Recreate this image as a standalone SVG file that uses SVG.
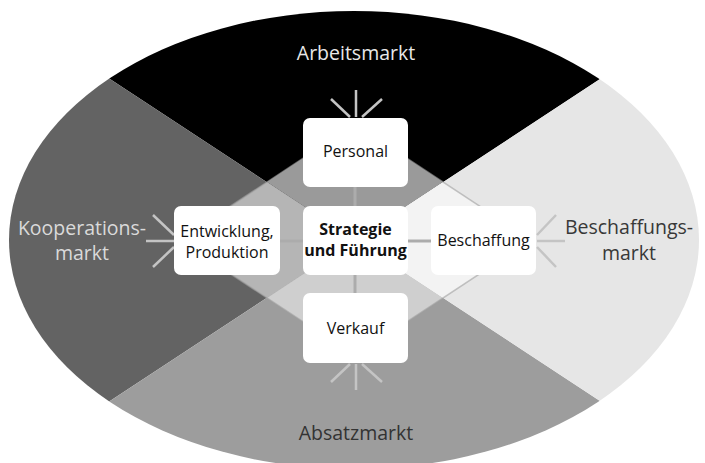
<svg xmlns="http://www.w3.org/2000/svg" width="705" height="463" viewBox="0 0 705 463">
  <defs>
    <clipPath id="oval">
      <ellipse cx="354" cy="240" rx="345" ry="229"/>
    </clipPath>
    <style>
      .box { fill: #ffffff; }
      .lbl { font-family: "Open Sans", "Liberation Sans", sans-serif; font-size: 16px; fill: #111111; text-anchor: middle; }
      .bold { font-weight: bold; }
      .mkt { font-family: "Open Sans", "Liberation Sans", sans-serif; font-size: 19.5px; text-anchor: middle; }
      .ray { stroke: #c4c4c4; stroke-width: 2.5; fill: none; }
      .link { stroke: #acacac; stroke-width: 3; fill: none; }
      .edge { fill: none; stroke: #a0a0a0; stroke-opacity: 0.6; stroke-width: 1.5; }
    </style>
  </defs>

  <!-- market sectors -->
  <g id="sectors" clip-path="url(#oval)">
    <polygon points="355,240 -380,-243 1090,-243" fill="#000000"/>
    <polygon points="355,240 -380,-243 -380,723" fill="#636363"/>
    <polygon points="355,240 -380,723 1090,723" fill="#9d9d9d"/>
    <polygon points="355,240 1090,-243 1090,723" fill="#e6e6e6"/>
  </g>

  <!-- inner diamond -->
  <g id="diamond">
    <polygon points="355,240 267,182 355,124 443,182" fill="#9a9a9a"/>
    <polygon points="355,240 267,182 179,240 267,298" fill="#b5b5b5"/>
    <polygon points="355,240 267,298 355,356 443,298" fill="#cfcfcf"/>
    <polygon points="355,240 443,182 531,240 443,298" fill="#f3f3f3"/>
    <polygon class="edge" points="179,240 355,124 531,240 355,356"/>
  </g>

  <!-- connectors -->
  <g id="connectors">
    <line class="link" x1="355" y1="187" x2="355" y2="206"/>
    <line class="link" x1="355" y1="275" x2="355" y2="293"/>
    <line class="link" x1="280" y1="241" x2="303" y2="241"/>
    <line class="link" x1="408" y1="241" x2="431" y2="241"/>
    <!-- rays from the markets -->
    <line class="ray" x1="356" y1="90" x2="356" y2="117"/>
    <line class="ray" x1="331" y1="99" x2="350" y2="117"/>
    <line class="ray" x1="382" y1="99" x2="362" y2="117"/>
    <line class="ray" x1="356" y1="364" x2="356" y2="390"/>
    <line class="ray" x1="350" y1="364" x2="331" y2="382"/>
    <line class="ray" x1="362" y1="364" x2="382" y2="382"/>
    <line class="ray" x1="146" y1="241" x2="174" y2="241"/>
    <line class="ray" x1="153" y1="215" x2="174" y2="235"/>
    <line class="ray" x1="153" y1="267" x2="174" y2="247"/>
    <line class="ray" x1="537" y1="241" x2="565" y2="241"/>
    <line class="ray" x1="556" y1="215" x2="537" y2="235"/>
    <line class="ray" x1="556" y1="267" x2="537" y2="247"/>
  </g>

  <g id="personal">
    <rect class="box" x="303" y="118" width="105" height="69" rx="7"/>
    <text class="lbl" x="355.5" y="157">Personal</text>
  </g>
  <g id="strategie">
    <rect class="box" x="303" y="206" width="105" height="69" rx="7"/>
    <text class="lbl bold" x="355.5" y="235">Strategie</text>
    <text class="lbl bold" x="355.5" y="256">und Führung</text>
  </g>
  <g id="entwicklung">
    <rect class="box" x="174" y="206" width="106" height="69" rx="7"/>
    <text class="lbl" x="227" y="237">Entwicklung,</text>
    <text class="lbl" x="227" y="258">Produktion</text>
  </g>
  <g id="beschaffung">
    <rect class="box" x="431" y="206" width="105" height="69" rx="7"/>
    <text class="lbl" x="483.5" y="246">Beschaffung</text>
  </g>
  <g id="verkauf">
    <rect class="box" x="303" y="293" width="105" height="70" rx="7"/>
    <text class="lbl" x="355.5" y="334">Verkauf</text>
  </g>

  <!-- market labels -->
  <g id="arbeitsmarkt">
    <text class="mkt" x="356" y="60" fill="#e8e8e8">Arbeitsmarkt</text>
  </g>
  <g id="kooperationsmarkt">
    <text class="mkt" x="82" y="235" fill="#dadada">Kooperations-</text>
    <text class="mkt" x="82" y="260" fill="#dadada">markt</text>
  </g>
  <g id="beschaffungsmarkt">
    <text class="mkt" x="629" y="234" fill="#383838">Beschaffungs-</text>
    <text class="mkt" x="629" y="260" fill="#383838">markt</text>
  </g>
  <g id="absatzmarkt">
    <text class="mkt" x="356" y="440" fill="#333333">Absatzmarkt</text>
  </g>
</svg>
